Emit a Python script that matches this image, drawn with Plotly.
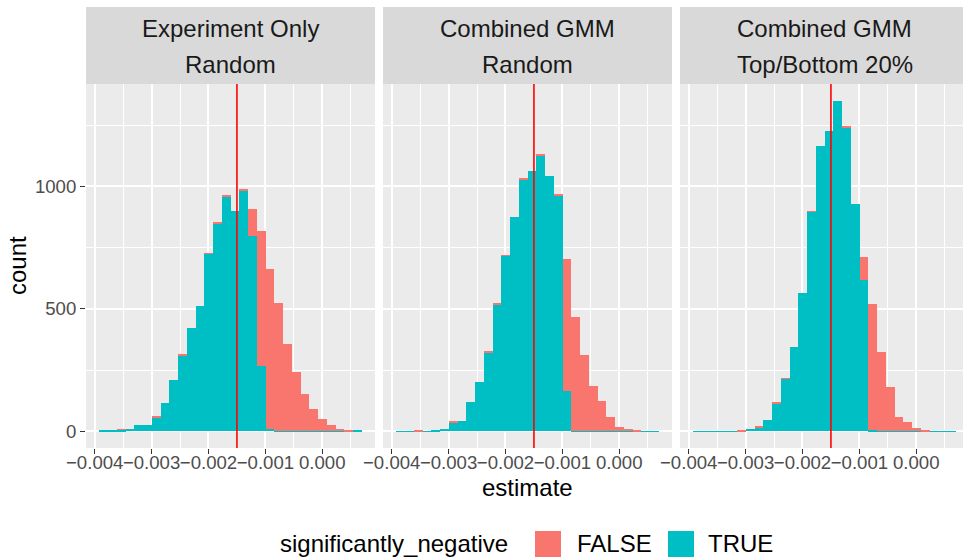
import plotly.graph_objects as go

# ---------------- data ----------------
bin_start = -0.003918
bin_width = 0.0001538
n_bins = 30
bin_centers = [bin_start + (i + 0.5) * bin_width for i in range(n_bins)]

strip_line1 = ["Experiment Only", "Combined GMM", "Combined GMM"]
strip_line2 = ["Random", "Random", "Top/Bottom 20%"]

true_exp_random = [2, 5, 7, 11, 27, 27, 58, 117, 210, 308, 422, 512, 725, 847, 957,
                   898, 984, 799, 269, 11, 3, 2, 1, 1, 1, 1, 1, 1, 1, 2]
false_exp_random = [0, 0, 3, 0, 0, 0, 6, 0, 0, 4, 0, 0, 2, 4, 4,
                    0, 4, 107, 548, 651, 521, 355, 242, 150, 91, 51, 26, 10, 6, 0]

true_gmm_random = [1, 1, 1, 1, 4, 11, 35, 43, 121, 202, 324, 516, 716, 875, 1028,
                   1062, 1125, 1041, 963, 166, 2, 1, 1, 1, 1, 1, 1, 1, 1, 1]
false_gmm_random = [0, 0, 2, 0, 0, 0, 6, 0, 0, 0, 4, 4, 3, 0, 5,
                    0, 5, 0, 4, 537, 465, 311, 186, 124, 59, 18, 10, 2, 0, 0]

true_gmm_top = [1, 1, 1, 1, 1, 1, 11, 16, 47, 114, 214, 345, 566, 896, 1163,
                1224, 1350, 1240, 927, 617, 7, 1, 1, 1, 1, 1, 1, 1, 1, 1]
false_gmm_top = [0, 0, 0, 0, 0, 2, 0, 3, 0, 3, 4, 0, 0, 2, 0,
                 0, 0, 4, 0, 94, 513, 323, 181, 59, 38, 14, 2, 0, 0, 0]

true_series = [true_exp_random, true_gmm_random, true_gmm_top]
false_series = [false_exp_random, false_gmm_random, false_gmm_top]

vline_x = -0.0015

x_tickvals = [-0.004, -0.003, -0.002, -0.001, 0.0]
x_ticktext = ["\u22120.004", "\u22120.003", "\u22120.002", "\u22120.001", "0.000"]
y_tickvals = [0, 500, 1000]
y_ticktext = ["0", "500", "1000"]

legend_title = "significantly_negative"
legend_labels = ["FALSE", "TRUE"]

# ---------------- style ----------------
COL_FALSE = "#F8766D"
COL_TRUE = "#00BFC4"
PANEL_BG = "#EBEBEB"
STRIP_BG = "#D9D9D9"
FONT = "Liberation Sans, Arial, sans-serif"

W, H = 963, 558
L, R, T, B = 86, 0, 84, 110
plot_w = W - L - R
plot_h = H - T - B

def px_x(px):
    return (px - L) / plot_w

def px_y(py):
    return (H - B - py) / plot_h

domains = [
    [px_x(86), px_x(375)],
    [px_x(383), px_x(672)],
    [px_x(680), 1.0],
]
x_full = [-0.004153, 0.000927]
x_ranges = [x_full, x_full, [-0.004153, -0.004153 + (963 - 680) / 289 * (x_full[1] - x_full[0])]]
y_range = [-67.5, 1417.5]

fig = go.Figure()
for k in range(3):
    xa = "x" if k == 0 else f"x{k+1}"
    ya = "y" if k == 0 else f"y{k+1}"
    fig.add_trace(go.Bar(x=bin_centers, y=true_series[k], width=bin_width,
                         marker=dict(color=COL_TRUE, line=dict(width=0)),
                         name="TRUE", showlegend=False, xaxis=xa, yaxis=ya))
    fig.add_trace(go.Bar(x=bin_centers, y=false_series[k], width=bin_width,
                         marker=dict(color=COL_FALSE, line=dict(width=0)),
                         name="FALSE", showlegend=False, xaxis=xa, yaxis=ya))

layout = dict(
    width=W, height=H,
    margin=dict(l=L, r=R, t=T, b=B, pad=0, autoexpand=False),
    paper_bgcolor="white", plot_bgcolor=PANEL_BG,
    barmode="stack", bargap=0,
    font=dict(family=FONT, color="black"),
    showlegend=False,
)

for k in range(3):
    sx = "" if k == 0 else str(k + 1)
    layout[f"xaxis{sx}"] = dict(
        domain=domains[k], range=x_ranges[k], anchor=f"y{sx}",
        tickvals=x_tickvals, ticktext=x_ticktext, tickangle=0,
        ticks="outside", ticklen=5, tickwidth=1.4, tickcolor="#333333",
        tickfont=dict(size=18.6, color="#4D4D4D", family=FONT),
        ticklabelstandoff=-7,
        showgrid=True, gridcolor="white", gridwidth=1.7,
        minor=dict(tickvals=[-0.0035, -0.0025, -0.0015, -0.0005, 0.0005],
                   showgrid=True, gridcolor="white", gridwidth=0.85, ticks=""),
        zeroline=False, showline=False, fixedrange=True, automargin=False,
    )
    layout[f"yaxis{sx}"] = dict(
        domain=[0, 1], range=y_range, anchor=f"x{sx}",
        tickvals=y_tickvals, ticktext=y_ticktext,
        showticklabels=(k == 0),
        ticks="outside" if k == 0 else "", ticklen=5, tickwidth=1.4, tickcolor="#333333",
        tickfont=dict(size=18.6, color="#4D4D4D", family=FONT),
        ticklabelstandoff=0,
        showgrid=True, gridcolor="white", gridwidth=1.7,
        minor=dict(tickvals=[250, 750, 1250], showgrid=True,
                   gridcolor="white", gridwidth=0.85, ticks=""),
        zeroline=False, showline=False, fixedrange=True, automargin=False,
    )

shapes = []
annotations = []
for k in range(3):
    sx = "" if k == 0 else str(k + 1)
    # red reference line
    shapes.append(dict(type="line", xref=f"x{sx}", yref=f"y{sx} domain",
                       x0=vline_x, x1=vline_x, y0=0, y1=1,
                       line=dict(color="red", width=1.6), layer="above"))
    # strip background
    shapes.append(dict(type="rect", xref=f"x{sx} domain", yref="paper",
                       x0=0, x1=1, y0=1, y1=px_y(7),
                       fillcolor=STRIP_BG, line=dict(width=0), layer="below"))
    cx = (domains[k][0] + domains[k][1]) / 2 if k < 2 else px_x(680 + 289 / 2)
    annotations.append(dict(text=strip_line1[k], xref="paper", yref="paper",
                            x=cx, y=px_y(28), xanchor="center", yanchor="middle",
                            showarrow=False, font=dict(size=24, color="#1A1A1A", family=FONT)))
    annotations.append(dict(text=strip_line2[k], xref="paper", yref="paper",
                            x=cx, y=px_y(65), xanchor="center", yanchor="middle",
                            showarrow=False, font=dict(size=24, color="#1A1A1A", family=FONT)))

# axis titles
annotations.append(dict(text="estimate", xref="paper", yref="paper",
                        x=px_x(527.5), y=px_y(487), xanchor="center", yanchor="middle",
                        showarrow=False, font=dict(size=24, color="black", family=FONT)))
annotations.append(dict(text="count", xref="paper", yref="paper", textangle=-90,
                        x=px_x(17), y=px_y(266), xanchor="center", yanchor="middle",
                        showarrow=False, font=dict(size=24, color="black", family=FONT)))

# legend (drawn)
leg_y = 544
annotations.append(dict(text=legend_title, xref="paper", yref="paper",
                        x=px_x(278), y=px_y(leg_y - 1), xanchor="left", yanchor="middle",
                        showarrow=False, font=dict(size=24, color="black", family=FONT)))
key_x = [535, 668]
text_x = [575, 706]
key_cols = [COL_FALSE, COL_TRUE]
for i in range(2):
    shapes.append(dict(type="rect", xref="paper", yref="paper",
                       x0=px_x(key_x[i]), x1=px_x(key_x[i] + 26),
                       y0=px_y(leg_y - 13), y1=px_y(leg_y + 13),
                       fillcolor=key_cols[i], line=dict(width=0)))
    annotations.append(dict(text=legend_labels[i], xref="paper", yref="paper",
                            x=px_x(text_x[i]), y=px_y(leg_y - 1), xanchor="left", yanchor="middle",
                            showarrow=False, font=dict(size=24, color="black", family=FONT)))

layout["shapes"] = shapes
layout["annotations"] = annotations
fig.update_layout(**layout)
fig.write_html("out.html", config={"displayModeBar": False},
               post_script="document.body.style.margin='0px';document.body.style.overflow='hidden';")
